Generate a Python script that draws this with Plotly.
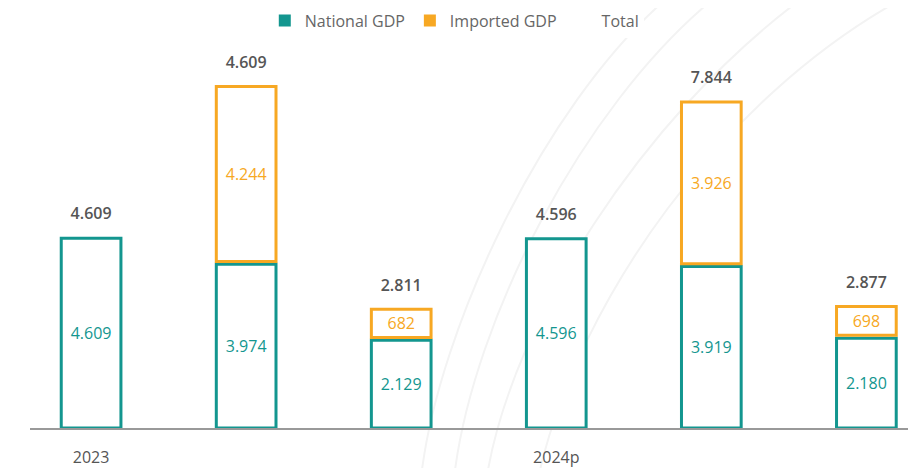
import plotly.graph_objects as go

tick_labels = ["2023", "", "", "2024p", "", ""]
national = [4.609, 3.974, 2.129, 4.596, 3.919, 2.180]
imported = [None, 4.244, 0.682, None, 3.926, 0.698]
national_text = ["4.609", "3.974", "2.129", "4.596", "3.919", "2.180"]
imported_text = ["", "4.244", "682", "", "3.926", "698"]
total_text = ["4.609", "4.609", "2.811", "4.596", "7.844", "2.877"]

TEAL = "#13968f"
ORANGE = "#f7a823"
FONT = "Open Sans"

x = list(range(len(national)))
gap = 0.07
imp_base = [n + gap if i is not None else None for n, i in zip(national, imported)]
totals = [n + (i + gap if i is not None else 0) for n, i in zip(national, imported)]

fig = go.Figure()


# faint decorative arcs (defined in window pixels, converted to paper coords)
def px2paper(px, py):
    return (px - 30) / 886, (428 - py) / 379


arc_pts = [
    [(422, 470), (440, 330), (540, 110), (665, 0)],
    [(455, 470), (475, 320), (580, 110), (712, 0)],
    [(488, 470), (515, 320), (640, 120), (800, 0)],
    [(540, 470), (580, 300), (720, 100), (900, 0)],
]
for pts in arc_pts:
    c = [px2paper(*p) for p in pts]
    path = "M {:.4f},{:.4f} C {:.4f},{:.4f} {:.4f},{:.4f} {:.4f},{:.4f}".format(
        c[0][0], c[0][1], c[1][0], c[1][1], c[2][0], c[2][1], c[3][0], c[3][1])
    fig.add_shape(type="path", path=path, xref="paper", yref="paper",
                  line=dict(color="#f3f3f3", width=2), layer="below")

fig.add_trace(go.Bar(
    x=x, y=national, width=0.385,
    marker=dict(color="white", line=dict(color=TEAL, width=3)),
    text=national_text, textposition="inside", insidetextanchor="middle",
    textfont=dict(color=TEAL, size=16, family=FONT),
    showlegend=False, hoverinfo="skip",
))
fig.add_trace(go.Bar(
    x=x, y=imported, base=imp_base, width=0.385,
    marker=dict(color="white", line=dict(color=ORANGE, width=3)),
    text=imported_text, textposition="inside", insidetextanchor="middle",
    textfont=dict(color=ORANGE, size=16, family=FONT),
    showlegend=False, hoverinfo="skip",
))
fig.add_trace(go.Scatter(
    x=x, y=totals, mode="markers+text", text=total_text, textposition="top center",
    marker=dict(size=22, color="rgba(0,0,0,0)"),
    textfont=dict(color="#555555", size=16, family=FONT, weight=600),
    showlegend=False, hoverinfo="skip", cliponaxis=False,
))

# legend entries
for name, col in [("National GDP", TEAL), ("Imported GDP", ORANGE), ("Total", "rgba(0,0,0,0)")]:
    fig.add_trace(go.Scatter(
        x=[None], y=[None], mode="markers", name=name,
        marker=dict(symbol="square", size=12, color=col),
    ))

fig.update_layout(
    width=908, height=460,
    margin=dict(l=22, r=0, t=41, b=40, autoexpand=False),
    paper_bgcolor="white", plot_bgcolor="rgba(0,0,0,0)",
    barmode="overlay",
    font=dict(family=FONT, color="#666666", size=15),
    legend=dict(orientation="h", x=0.265, xanchor="left",
                y=1.12, yanchor="top",
                font=dict(size=16, color="#666666"), itemwidth=30),
    xaxis=dict(range=[-0.394, 5.32], tickvals=x, ticktext=tick_labels,
               showgrid=False, zeroline=False, showline=True, linecolor="#999999",
               linewidth=1.5, ticks="", ticklabelstandoff=14,
               tickfont=dict(size=16, color="#555555")),
    yaxis=dict(range=[0, 9.2], visible=False),
)

fig.write_html("out.html")
